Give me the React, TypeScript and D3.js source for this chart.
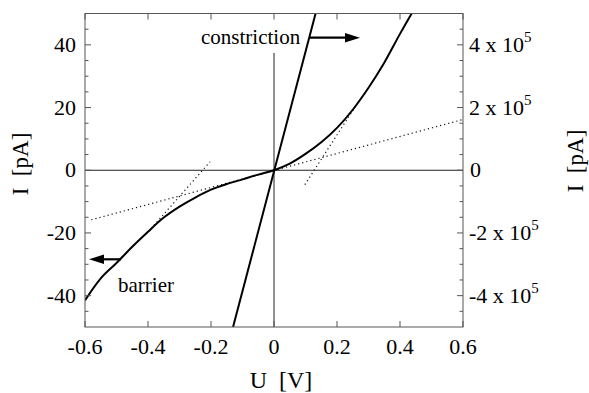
import React from "react";
import * as d3 from "d3";

const barrierU = [-0.6, -0.55, -0.5, -0.45, -0.4, -0.35, -0.3, -0.25, -0.2, -0.15, -0.1, -0.05, 0, 0.05, 0.1, 0.15, 0.2, 0.25, 0.3, 0.35, 0.4, 0.437];
const barrierI = [-41.5, -34.5, -29.6, -24.4, -19.6, -15.1, -11.6, -8.7, -6.2, -4.4, -2.9, -1.4, 0, 2.1, 5.2, 8.9, 13.5, 19.3, 26.3, 34.3, 43.5, 50];
const constrictionU = [-0.13, 0.132];
const constrictionI = [-50, 50];
const tangentLowU = [-0.58, 0.6];
const tangentLowI = [-15.8, 16.2];
const tangentNegU = [-0.39, -0.203];
const tangentNegI = [-18.6, 2.7];
const tangentPosU = [0.098, 0.26];
const tangentPosI = [-4.6, 20.6];
const xTicks = [-0.6, -0.4, -0.2, 0, 0.2, 0.4, 0.6];
const xTickLabels = ["-0.6", "-0.4", "-0.2", "0", "0.2", "0.4", "0.6"];
const yTicks = [-40, -20, 0, 20, 40];
const yTickLabels = ["-40", "-20", "0", "20", "40"];
const yMinorTicks = [-45, -35, -30, -25, -15, -10, -5, 5, 10, 15, 25, 30, 35, 45];
const rightTickMantissa = ["-4", "-2", "0", "2", "4"];

const W = 589, H = 393;
const x = d3.scaleLinear().domain([-0.6, 0.6]).range([85, 463]);
const y = d3.scaleLinear().domain([-50, 50]).range([327, 13.5]);

const line = d3.line<[number, number]>().x(d => x(d[0])).y(d => y(d[1])).curve(d3.curveMonotoneX);
const zip = (a: number[], b: number[]) => a.map((v, i) => [v, b[i]] as [number, number]);

const FONT = "'Liberation Serif', 'Times New Roman', serif";

export default function App() {
  const axisColor = "#555";
  const x0 = x.range()[0], x1 = x.range()[1];
  const yTop = y.range()[1], yBot = y.range()[0];
  return (
    <svg width={W} height={H} style={{ position: "absolute", left: 0, top: 0, background: "#fff" }} fontFamily={FONT}>
      <defs>
        <clipPath id="plot">
          <rect x={x0} y={yTop} width={x1 - x0} height={yBot - yTop} />
        </clipPath>
      </defs>
      {/* zero lines */}
      <line x1={x0} x2={x1} y1={y(0)} y2={y(0)} stroke="#222" strokeWidth={1} />
      <line x1={x(0)} x2={x(0)} y1={y(37.4)} y2={yBot} stroke="#222" strokeWidth={1} />
      <g clipPath="url(#plot)" fill="none">
        <path d={line(zip(tangentLowU, tangentLowI)) || ""} stroke="#111" strokeWidth={1.2} strokeDasharray="1.2,3" />
        <path d={line(zip(tangentNegU, tangentNegI)) || ""} stroke="#111" strokeWidth={1.2} strokeDasharray="1.2,3" />
        <path d={line(zip(tangentPosU, tangentPosI)) || ""} stroke="#111" strokeWidth={1.2} strokeDasharray="1.2,3" />
        <path d={line(zip(constrictionU, constrictionI)) || ""} stroke="#000" strokeWidth={2} />
        <path d={line(zip(barrierU, barrierI)) || ""} stroke="#000" strokeWidth={2} />
      </g>
      {/* frame */}
      <rect x={x0} y={yTop} width={x1 - x0} height={yBot - yTop} fill="none" stroke={axisColor} strokeWidth={1} />
      {/* x ticks */}
      {xTicks.map((t, i) => (
        <g key={"x" + i}>
          <line x1={x(t)} x2={x(t)} y1={yBot} y2={yBot - 6} stroke={axisColor} />
          <line x1={x(t)} x2={x(t)} y1={yTop} y2={yTop + 6} stroke={axisColor} />
          <text x={x(t)} y={353.5} textAnchor="middle" fontSize={22} fill="#000">{xTickLabels[i]}</text>
        </g>
      ))}
      {/* y ticks */}
      {yTicks.map((t, i) => (
        <g key={"y" + i}>
          <line x1={x0} x2={x0 + 6} y1={y(t)} y2={y(t)} stroke={axisColor} />
          <line x1={x1} x2={x1 - 6} y1={y(t)} y2={y(t)} stroke={axisColor} />
          <text x={76} y={y(t) + 7} textAnchor="end" fontSize={22} fill="#000">{yTickLabels[i]}</text>
          {t === 0 ? (
            <text x={470} y={y(t) + 7} fontSize={22} fill="#000">0</text>
          ) : (
            <text x={469} y={y(t) + 7} fontSize={22} fill="#000">
              {rightTickMantissa[i] + " x 10"}
              <tspan dy={-10} fontSize={15}>5</tspan>
            </text>
          )}
        </g>
      ))}
      {yMinorTicks.map((t, i) => (
        <g key={"m" + i}>
          <line x1={x0} x2={x0 + 3.5} y1={y(t)} y2={y(t)} stroke={axisColor} />
          <line x1={x1} x2={x1 - 3.5} y1={y(t)} y2={y(t)} stroke={axisColor} />
        </g>
      ))}
      {/* annotations */}
      <text x={201} y={43.5} fontSize={21} fill="#000">constriction</text>
      <line x1={309} x2={346} y1={37.7} y2={37.7} stroke="#000" strokeWidth={2.2} />
      <path d="M360,37.7 L345,33 L345,42.4 Z" fill="#000" />
      <text x={118} y={291.5} fontSize={21} fill="#000">barrier</text>
      <line x1={121} x2={103} y1={259.3} y2={259.3} stroke="#000" strokeWidth={2.2} />
      <path d="M89,259.3 L104,254.6 L104,264 Z" fill="#000" />
      {/* axis titles */}
      <text transform="translate(27.5,164) rotate(-90)" textAnchor="middle" fontSize={23} fill="#000" style={{ whiteSpace: "pre" }}>{"I  [pA]"}</text>
      <text transform="translate(582.5,161) rotate(-90)" textAnchor="middle" fontSize={23} fill="#000" style={{ whiteSpace: "pre" }}>{"I  [pA]"}</text>
      <text x={281} y={388} textAnchor="middle" fontSize={24} fill="#000" style={{ whiteSpace: "pre" }}>{"U  [V]"}</text>
    </svg>
  );
}
